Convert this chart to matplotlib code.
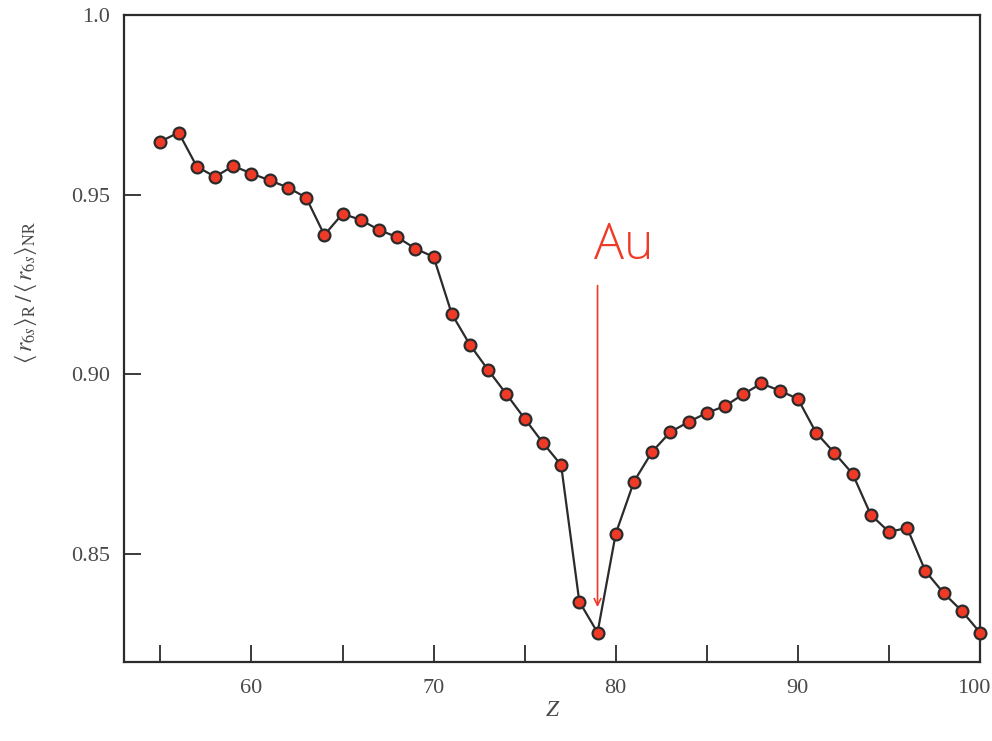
import matplotlib
matplotlib.use("Agg")
import matplotlib.pyplot as plt
import matplotlib.transforms as mtransforms
import numpy as np

# Atomic number Z and ratio of relativistic to non-relativistic <r_6s>
z_values = list(range(55, 101))
ratio = [
    0.9648, 0.9673, 0.9578, 0.9550, 0.9580, 0.9559, 0.9540, 0.9520, 0.9492, 0.9388,
    0.9447, 0.9430, 0.9402, 0.9382, 0.9350, 0.9327, 0.9168, 0.9082, 0.9012, 0.8945,
    0.8877, 0.8810, 0.8748, 0.8368, 0.8282, 0.8557, 0.8702, 0.8785, 0.8840, 0.8868,
    0.8893, 0.8912, 0.8945, 0.8975, 0.8955, 0.8932, 0.8838, 0.8782, 0.8724, 0.8610,
    0.8562, 0.8573, 0.8453, 0.8392, 0.8342, 0.8282,
]

x_ticks = [55, 60, 65, 70, 75, 80, 85, 90, 95, 100]
x_tick_labels = ["", "60", "", "70", "", "80", "", "90", "", "100"]
y_ticks = [0.85, 0.90, 0.95, 1.0]
y_tick_labels = ["0.85", "0.90", "0.95", "1.0"]

annot_label = "Au"
annot_z = 79
annot_top = 0.9255
annot_tip = 0.8345

plt.rcParams["mathtext.fontset"] = "stix"
serif = ["Liberation Serif", "DejaVu Serif"]
ink = "#2b2b2b"
label_grey = "#4a4a4a"
red = "#ee3a26"

fig = plt.figure(figsize=(9.92, 7.41), dpi=100)
ax = fig.add_axes([124 / 992, 1 - 662 / 741, (980 - 124) / 992, (662 - 15) / 741])

ax.plot(z_values, ratio, color=ink, lw=1.6, zorder=2)
ax.plot(z_values, ratio, ls="none", marker="o", ms=8.5, mfc=red, mec=ink, mew=1.6,
        zorder=3, clip_on=False)

ax.set_xlim(53, 100)
ax.set_ylim(0.82, 1.0)

ax.set_xticks(x_ticks)
ax.set_xticklabels(x_tick_labels, family=serif, fontsize=16, color=label_grey)
ax.set_yticks(y_ticks)
ax.set_yticklabels(y_tick_labels, family=serif, fontsize=16, color=label_grey)
ax.tick_params(direction="in", length=12, width=1.3, color=ink, pad=10)
ax.tick_params(axis="x", pad=12)

# keep the last x label inside the canvas
shift = mtransforms.ScaledTranslation(-6 / 100, 0, fig.dpi_scale_trans)
last = ax.get_xticklabels()[-1]
last.set_transform(last.get_transform() + shift)

for s in ax.spines.values():
    s.set_linewidth(1.6)
    s.set_color(ink)

ax.set_xlabel("Z", family=serif, style="italic", fontsize=17, color=label_grey, labelpad=2)

fig.text(26 / 992, 1 - 292 / 741,
         r"$\langle\,r_{6s}\rangle_{\rm R}\,/\,\langle\,r_{6s}\rangle_{\rm NR}$",
         rotation=90, ha="center", va="center", fontsize=17, color=label_grey)

# Arrow pointing at gold
ax.annotate("", xy=(annot_z, annot_tip), xytext=(annot_z, annot_top),
            arrowprops=dict(arrowstyle="->", color=red, lw=1.2, mutation_scale=12))
ax.text(annot_z - 0.2, 0.932, annot_label, color=red, fontsize=36,
        family=["Open Sans", "DejaVu Sans"], fontweight="light", ha="left", va="baseline")

fig.savefig("out.png", dpi=100)
